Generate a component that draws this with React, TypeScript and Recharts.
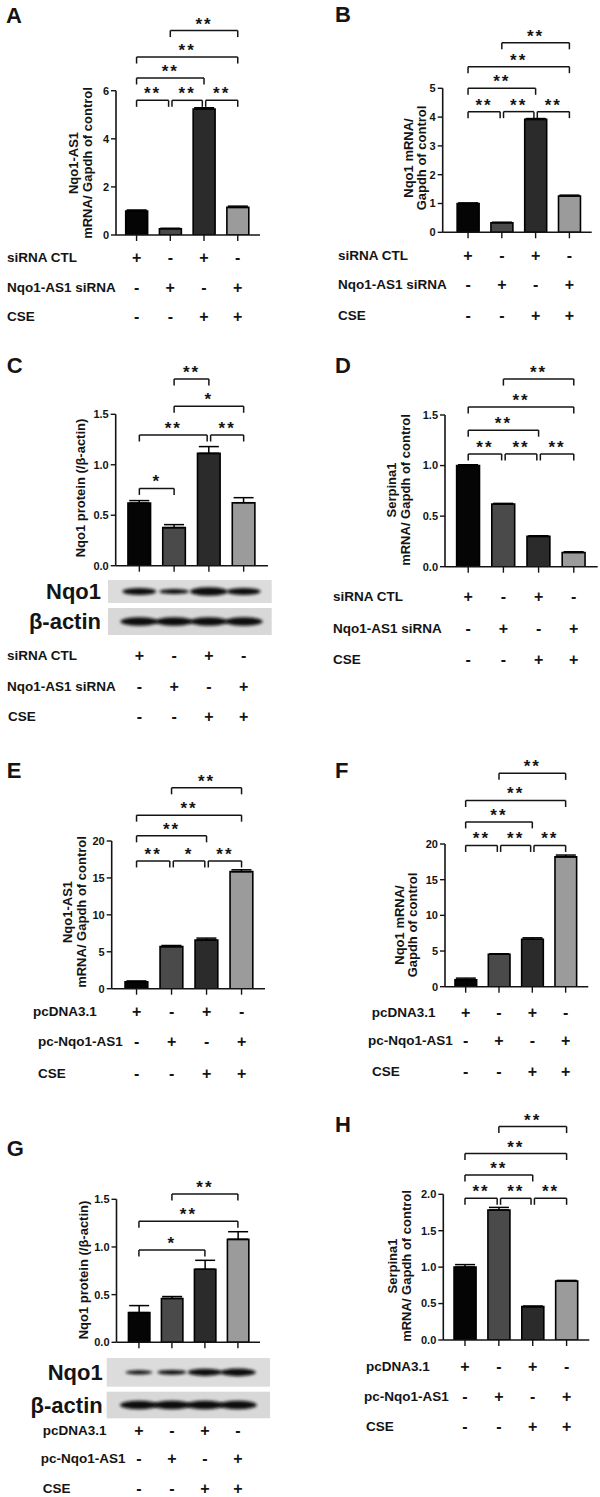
import React from 'react';
import { BarChart, Bar, XAxis, YAxis, Cell, ErrorBar, ReferenceLine } from 'recharts';

const FONT = '"Liberation Sans", Arial, Helvetica, sans-serif';
const BAR_COLORS = ['#050505', '#4a4a4a', '#2b2b2b', '#9b9b9b'];
const INK = '#141414';

type Bracket = [number, number, number, string];

// groups on the x axis
const groups = [1, 2, 3, 4];

// rows of the +/- table
const siRnaRows = ['siRNA CTL', 'Nqo1-AS1 siRNA', 'CSE'];
const pcRows = ['pcDNA3.1', 'pc-Nqo1-AS1', 'CSE'];
const siCtlSigns = ['+', '-', '+', '-'];
const siNqoSigns = ['-', '+', '-', '+'];
const pcDnaSigns = ['+', '-', '+', '-'];
const pcNqoSigns = ['-', '+', '-', '+'];
const cseSigns = ['-', '-', '+', '+'];

// A - Nqo1-AS1, siRNA
const aValues = [1.0, 0.26, 5.24, 1.15];
const aErrors = [0.04, 0.02, 0.05, 0.05];
const aTicks = [0, 2, 4, 6];
const aBrackets: Bracket[] = [[1, 2, 5.6, '**'], [2, 3, 5.6, '**'], [3, 4, 5.6, '**'], [1, 3, 6.53, '**'], [1, 4, 7.4, '**'], [2, 4, 8.5, '**']];

// B - Nqo1 mRNA, siRNA
const bValues = [1.0, 0.33, 3.92, 1.26];
const bErrors = [0.02, 0.02, 0.03, 0.03];
const bTicks = [0, 1, 2, 3, 4, 5];
const bBrackets: Bracket[] = [[1, 2, 4.19, '**'], [2, 3, 4.19, '**'], [3, 4, 4.19, '**'], [1, 3, 5.0, '**'], [1, 4, 5.75, '**'], [2, 4, 6.58, '**']];

// C - Nqo1 protein, siRNA
const cValues = [0.62, 0.377, 1.113, 0.624];
const cErrors = [0.025, 0.03, 0.067, 0.05];
const cTicks = [0, 0.5, 1, 1.5];
const cBrackets: Bracket[] = [[1, 2, 0.766, '*'], [1, 3, 1.295, '**'], [3, 4, 1.295, '**'], [2, 4, 1.58, '*'], [2, 3, 1.85, '**']];
const cNqo1Band = [0.7, 0.4, 1.0, 0.7];
const cActinBand = [1, 1, 1, 1];

// D - Serpina1, siRNA
const dValues = [1.0, 0.62, 0.3, 0.14];
const dErrors = [0.008, 0.006, 0.006, 0.008];
const dTicks = [0, 0.5, 1, 1.5];
const dBrackets: Bracket[] = [[1, 2, 1.115, '**'], [2, 3, 1.115, '**'], [3, 4, 1.115, '**'], [1, 3, 1.35, '**'], [1, 4, 1.58, '**'], [2, 4, 1.855, '**']];

// E - Nqo1-AS1, overexpression
const eValues = [0.95, 5.7, 6.6, 15.85];
const eErrors = [0.1, 0.15, 0.25, 0.25];
const eTicks = [0, 5, 10, 15, 20];
const eBrackets: Bracket[] = [[1, 2, 17.3, '**'], [2, 3, 17.3, '*'], [3, 4, 17.3, '**'], [1, 3, 20.7, '**'], [1, 4, 23.5, '**'], [2, 4, 27.2, '**']];

// F - Nqo1 mRNA, overexpression
const fValues = [0.95, 4.55, 6.65, 18.2];
const fErrors = [0.25, 0.06, 0.2, 0.25];
const fTicks = [0, 5, 10, 15, 20];
const fBrackets: Bracket[] = [[1, 2, 19.8, '**'], [2, 3, 19.8, '**'], [3, 4, 19.8, '**'], [1, 3, 23.1, '**'], [1, 4, 26.1, '**'], [2, 4, 29.9, '**']];

// G - Nqo1 protein, overexpression
const gValues = [0.311, 0.46, 0.766, 1.08];
const gErrors = [0.074, 0.02, 0.094, 0.08];
const gTicks = [0, 0.5, 1, 1.5];
const gBrackets: Bracket[] = [[1, 3, 0.969, '*'], [1, 4, 1.27, '**'], [2, 4, 1.556, '**']];
const gNqo1Band = [0.2, 0.35, 0.75, 0.85];
const gActinBand = [1, 1, 1, 1];

// H - Serpina1, overexpression
const hValues = [1.0, 1.785, 0.458, 0.81];
const hErrors = [0.035, 0.035, 0.008, 0.008];
const hTicks = [0, 0.5, 1, 1.5, 2];
const hBrackets: Bracket[] = [[1, 2, 1.945, '**'], [2, 3, 1.945, '**'], [3, 4, 1.945, '**'], [1, 3, 2.265, '**'], [1, 4, 2.56, '**'], [2, 4, 2.93, '**']];

type Blot = { nqo: [number, number]; act: [number, number]; x: [number, number]; labelRight: number; nqoBand: number[]; actBand: number[] };

type PanelCfg = {
  letter: string; left: number; top: number; height: number;
  axisX: number; yTop: number; y0: number; xEnd: number;
  xDomain: [number, number]; yMax: number; yTicks: number[]; decimals: number;
  values: number[]; errors: number[]; brackets: Bracket[];
  letterPos: [number, number];
  yLabel: string[]; yLabelX: number[]; yLabelCY: number;
  rows: string[]; rowX: number[]; rowY: number[]; signs: string[][];
  blot?: Blot;
};

const panels: PanelCfg[] = [
  {
    letter: 'A', left: 0, top: 0, height: 330, axisX: 116, yTop: 90.7, y0: 235, xEnd: 260,
    xDomain: [0.39, 4.66], yMax: 6, yTicks: aTicks, decimals: 0, values: aValues, errors: aErrors, brackets: aBrackets,
    letterPos: [6, 22.7], yLabel: ['Nqo1-AS1', 'mRNA/ Gapdh of control'], yLabelX: [77.5, 91.5], yLabelCY: 163,
    rows: siRnaRows, rowX: [7, 7, 7], rowY: [257, 287, 316.7], signs: [siCtlSigns, siNqoSigns, cseSigns],
  },
  {
    letter: 'B', left: 300, top: 0, height: 330, axisX: 442.7, yTop: 88.3, y0: 232.3, xEnd: 591.7,
    xDomain: [0.25, 4.66], yMax: 5, yTicks: bTicks, decimals: 0, values: bValues, errors: bErrors, brackets: bBrackets,
    letterPos: [335, 21.7], yLabel: ['Nqo1 mRNA/', 'Gapdh of control'], yLabelX: [412.5, 425.5], yLabelCY: 158,
    rows: siRnaRows, rowX: [338, 338, 338], rowY: [255, 284, 315], signs: [siCtlSigns, siNqoSigns, cseSigns],
  },
  {
    letter: 'C', left: 0, top: 330, height: 400, axisX: 115.7, yTop: 414.3, y0: 565.7, xEnd: 268,
    xDomain: [0.32, 4.7], yMax: 1.5, yTicks: cTicks, decimals: 1, values: cValues, errors: cErrors, brackets: cBrackets,
    letterPos: [6.7, 373.3], yLabel: ['Nqo1 protein (/β-actin)'], yLabelX: [84.5], yLabelCY: 488,
    rows: siRnaRows, rowX: [7, 7, 8], rowY: [655, 686.7, 716.7], signs: [siCtlSigns, siNqoSigns, cseSigns],
    blot: { nqo: [580, 603], act: [608, 635], x: [108, 271.7], labelRight: 101, nqoBand: cNqo1Band, actBand: cActinBand },
  },
  {
    letter: 'D', left: 300, top: 330, height: 400, axisX: 445, yTop: 415, y0: 566.7, xEnd: 597.7,
    xDomain: [0.34, 4.68], yMax: 1.5, yTicks: dTicks, decimals: 1, values: dValues, errors: dErrors, brackets: dBrackets,
    letterPos: [335, 373.3], yLabel: ['Serpina1', 'mRNA/ Gapdh of control'], yLabelX: [395.5, 409.5], yLabelCY: 490,
    rows: siRnaRows, rowX: [333, 333, 333], rowY: [596.7, 628, 659], signs: [siCtlSigns, siNqoSigns, cseSigns],
  },
  {
    letter: 'E', left: 0, top: 730, height: 370, axisX: 111.7, yTop: 841, y0: 988.7, xEnd: 265,
    xDomain: [0.29, 4.67], yMax: 20, yTicks: eTicks, decimals: 0, values: eValues, errors: eErrors, brackets: eBrackets,
    letterPos: [6.7, 778.3], yLabel: ['Nqo1-AS1', 'mRNA/ Gapdh of control'], yLabelX: [71.5, 85.5], yLabelCY: 912,
    rows: pcRows, rowX: [33, 38, 38], rowY: [1011.7, 1041.7, 1073], signs: [pcDnaSigns, pcNqoSigns, cseSigns],
  },
  {
    letter: 'F', left: 300, top: 730, height: 370, axisX: 445, yTop: 844, y0: 986.7, xEnd: 588.3,
    xDomain: [0.38, 4.68], yMax: 20, yTicks: fTicks, decimals: 0, values: fValues, errors: fErrors, brackets: fBrackets,
    letterPos: [335, 778.3], yLabel: ['Nqo1 mRNA/', 'Gapdh of control'], yLabelX: [403.5, 416.5], yLabelCY: 925,
    rows: pcRows, rowX: [371.7, 368, 372], rowY: [1012, 1040, 1071.7], signs: [pcDnaSigns, pcNqoSigns, cseSigns],
  },
  {
    letter: 'G', left: 0, top: 1100, height: 397, axisX: 116.5, yTop: 1199.3, y0: 1342.3, xEnd: 260,
    xDomain: [0.32, 4.67], yMax: 1.5, yTicks: gTicks, decimals: 1, values: gValues, errors: gErrors, brackets: gBrackets,
    letterPos: [6.7, 1156], yLabel: ['Nqo1 protein (/β-actin)'], yLabelX: [87.5], yLabelCY: 1270,
    rows: pcRows, rowX: [42.7, 40.7, 42.7], rowY: [1430, 1458.3, 1488], signs: [pcDnaSigns, pcNqoSigns, cseSigns],
    blot: { nqo: [1358, 1386.7], act: [1391.7, 1418.3], x: [106.7, 270], labelRight: 102.7, nqoBand: gNqo1Band, actBand: gActinBand },
  },
  {
    letter: 'H', left: 300, top: 1100, height: 397, axisX: 443.3, yTop: 1194.3, y0: 1340, xEnd: 589.3,
    xDomain: [0.36, 4.67], yMax: 2, yTicks: hTicks, decimals: 1, values: hValues, errors: hErrors, brackets: hBrackets,
    letterPos: [335, 1131.7], yLabel: ['Serpina1', 'mRNA/ Gapdh of control'], yLabelX: [396.5, 410.5], yLabelCY: 1266,
    rows: pcRows, rowX: [366, 364, 366], rowY: [1366.7, 1396, 1426.7], signs: [pcDnaSigns, pcNqoSigns, cseSigns],
  },
];

const PANEL_W = 300;
const Y_AXIS_W = 30;
const X_AXIS_H = 10;

function bracketLines(brackets: Bracket[], drop: number) {
  return brackets.flatMap(([from, to, h, mark], i) => {
    const joinsLeft = brackets.some((b) => b[2] === h && b[1] === from);
    const joinsRight = brackets.some((b) => b[2] === h && b[0] === to);
    const x1 = from + (joinsLeft ? 0.05 : 0);
    const x2 = to - (joinsRight ? 0.05 : 0);
    const line = { ifOverflow: 'visible' as const, stroke: INK, strokeWidth: 1.5 };
    return [
      <ReferenceLine key={`h${i}`} {...line} segment={[{ x: x1, y: h }, { x: x2, y: h }]}
        label={{ value: mark, position: 'top', offset: 1, fontSize: 17, fontWeight: 700, fill: INK, fontFamily: FONT, letterSpacing: 2 }} />,
      <ReferenceLine key={`l${i}`} {...line} segment={[{ x: x1, y: h }, { x: x1, y: h - drop }]} />,
      <ReferenceLine key={`r${i}`} {...line} segment={[{ x: x2, y: h }, { x: x2, y: h - drop }]} />,
    ];
  });
}

function Panel({ cfg }: { cfg: PanelCfg }) {
  const data = groups.map((g, i) => ({ x: g, value: cfg.values[i], err: [0, cfg.errors[i]] }));
  const margin = {
    top: cfg.yTop - cfg.top,
    left: cfg.axisX - cfg.left - Y_AXIS_W,
    right: cfg.left + PANEL_W - cfg.xEnd,
    bottom: cfg.top + cfg.height - cfg.y0 - X_AXIS_H,
  };
  const drop = (6.5 * cfg.yMax) / (cfg.y0 - cfg.yTop);
  const spacing = (cfg.xEnd - cfg.axisX) / (cfg.xDomain[1] - cfg.xDomain[0]);
  const blot = cfg.blot;
  const fid = `blur${cfg.letter}`;

  const renderTick = (p: any) => {
    const { x, payload, index } = p;
    const i = groups.indexOf(payload.value);
    return (
      <g>
        {blot && index === 0 && (
          <g>
            <defs>
              <filter id={fid} x="-30%" y="-150%" width="160%" height="400%">
                <feGaussianBlur stdDeviation="1.6" />
              </filter>
            </defs>
            <rect x={blot.x[0] - cfg.left} y={blot.nqo[0] - cfg.top} width={blot.x[1] - blot.x[0]} height={blot.nqo[1] - blot.nqo[0]} fill="#dcdcdc" />
            <rect x={blot.x[0] - cfg.left} y={blot.act[0] - cfg.top} width={blot.x[1] - blot.x[0]} height={blot.act[1] - blot.act[0]} fill="#d8d8d8" />
            <text x={blot.labelRight - cfg.left} y={(blot.nqo[0] + blot.nqo[1]) / 2 - cfg.top} textAnchor="end" dominantBaseline="central" fontSize={22} fontWeight={700} fontFamily={FONT} fill={INK}>Nqo1</text>
            <text x={blot.labelRight - cfg.left} y={(blot.act[0] + blot.act[1]) / 2 - cfg.top} textAnchor="end" dominantBaseline="central" fontSize={22} fontWeight={700} fontFamily={FONT} fill={INK}>β-actin</text>
          </g>
        )}
        {blot && (
          <g filter={`url(#${fid})`}>
            {[{ row: blot.nqo, k: blot.nqoBand[i] }, { row: blot.act, k: blot.actBand[i] }].map(({ row, k }, j) => {
              const w = 24 + 14 * k;
              const h = 3 + 5.5 * k;
              const cy = (row[0] + row[1]) / 2 - cfg.top;
              return <ellipse key={j} cx={x} cy={cy} rx={w / 2} ry={h / 2} fill="#111" />;
            })}
          </g>
        )}
        {cfg.signs.map((row, r) => (
          <text key={r} x={x} y={cfg.rowY[r] - cfg.top} textAnchor="middle" dominantBaseline="central"
            fontSize={16} fontWeight={700} fontFamily={FONT} fill={INK}>{row[i]}</text>
        ))}
      </g>
    );
  };

  const axisStyle = { stroke: INK, strokeWidth: 1.6 };
  return (
    <div style={{ position: 'absolute', left: cfg.left, top: cfg.top, width: PANEL_W, height: cfg.height }}>
      <BarChart width={PANEL_W} height={cfg.height} data={data} margin={margin}>
        <XAxis dataKey="x" type="number" domain={cfg.xDomain} ticks={groups} interval={0} allowDataOverflow
          height={X_AXIS_H} tickSize={6} axisLine={axisStyle} tickLine={{ stroke: INK, strokeWidth: 1.4 }} tick={renderTick} />
        <YAxis type="number" domain={[0, cfg.yMax]} ticks={cfg.yTicks} interval={0} allowDataOverflow width={Y_AXIS_W}
          tickSize={5} tickMargin={2} axisLine={axisStyle} tickLine={{ stroke: INK, strokeWidth: 1.4 }}
          tickFormatter={(v: number) => v.toFixed(cfg.decimals)}
          tick={{ fill: INK, fontSize: 11, fontWeight: 700, fontFamily: FONT }} />
        <Bar dataKey="value" barSize={spacing * 0.65} stroke="#000" strokeWidth={1.6} isAnimationActive={false}>
          {data.map((d, i) => <Cell key={d.x} fill={BAR_COLORS[i]} />)}
          <ErrorBar dataKey="err" width={10} stroke="#000" strokeWidth={1.5} direction="y" isAnimationActive={false} />
        </Bar>
        {bracketLines(cfg.brackets, drop)}
      </BarChart>
      <svg width={PANEL_W} height={cfg.height} style={{ position: 'absolute', left: 0, top: 0, pointerEvents: 'none' }}
        fontFamily={FONT} fontWeight={700} fill={INK}>
        <text x={cfg.letterPos[0] - cfg.left} y={cfg.letterPos[1] - cfg.top} fontSize={22}>{cfg.letter}</text>
        {cfg.yLabel.map((line, i) => (
          <text key={line} transform={`translate(${cfg.yLabelX[i] - cfg.left},${cfg.yLabelCY - cfg.top}) rotate(-90)`}
            textAnchor="middle" fontSize={13}>{line}</text>
        ))}
        {cfg.rows.map((label, r) => (
          <text key={label} x={cfg.rowX[r] - cfg.left} y={cfg.rowY[r] - cfg.top} dominantBaseline="central" fontSize={13.5}>{label}</text>
        ))}
      </svg>
    </div>
  );
}

export default function App() {
  return (
    <div style={{ position: 'absolute', left: 0, top: 0, width: 600, height: 1497, background: '#fff', overflow: 'hidden' }}>
      {panels.map((cfg) => <Panel key={cfg.letter} cfg={cfg} />)}
    </div>
  );
}
